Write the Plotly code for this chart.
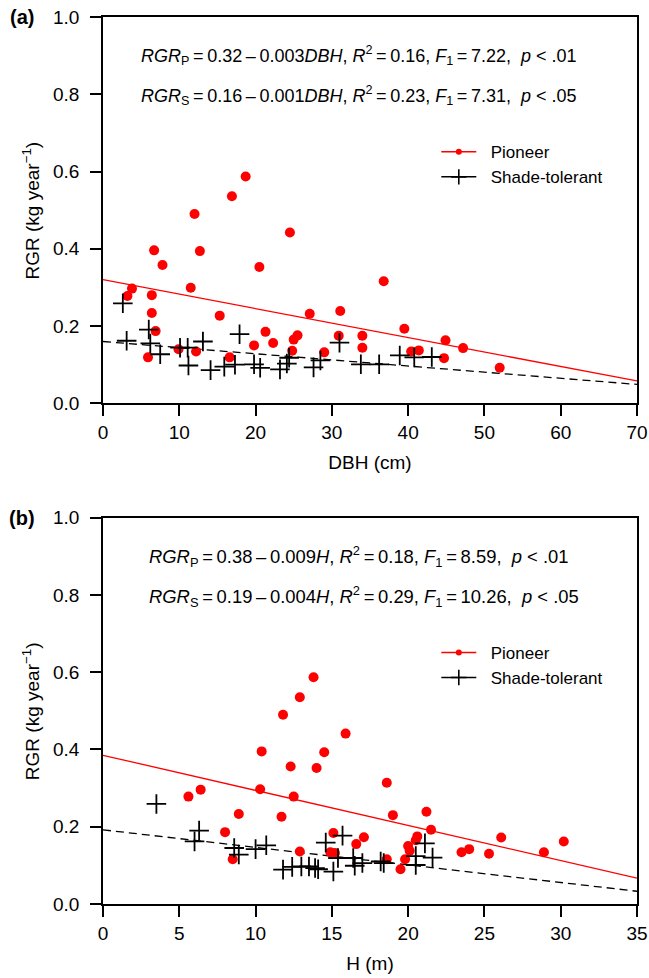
import plotly.graph_objects as go

# ---------------- data ----------------
# Panel (a): RGR vs DBH
pio_dbh = [3.2, 3.8, 6.4, 6.7, 7.8, 6.4, 6.9, 5.9, 11.5, 12.0, 12.7, 12.2, 9.9, 15.3, 16.9, 18.7,
           16.6, 19.8, 20.5, 21.3, 22.3, 24.5, 24.8, 25.0, 25.5, 27.1, 29.0, 31.1, 30.9, 34.0,
           34.0, 36.8, 39.5, 40.4, 41.4, 44.9, 44.7, 47.2, 52.0]
pio_rgr_a = [0.278, 0.297, 0.280, 0.396, 0.358, 0.234, 0.187, 0.119, 0.299, 0.490, 0.394, 0.134,
             0.140, 0.227, 0.536, 0.587, 0.119, 0.150, 0.353, 0.185, 0.156, 0.442, 0.136, 0.165,
             0.176, 0.232, 0.132, 0.239, 0.175, 0.175, 0.144, 0.316, 0.193, 0.134, 0.137, 0.163,
             0.117, 0.143, 0.092]
sha_dbh = [2.6, 3.1, 6.0, 6.2, 7.5, 10.1, 11.1, 11.2, 13.1, 14.1, 15.9, 17.3, 17.9, 19.8, 20.6,
           23.2, 24.1, 24.4, 27.6, 28.5, 31.0, 33.8, 36.2, 38.9, 40.8, 43.1]
sha_rgr_a = [0.259, 0.162, 0.191, 0.155, 0.127, 0.144, 0.144, 0.098, 0.160, 0.086, 0.095, 0.100,
             0.179, 0.101, 0.092, 0.088, 0.103, 0.118, 0.093, 0.111, 0.157, 0.101, 0.101, 0.124,
             0.119, 0.120]

# Panel (b): RGR vs H
pio_h = [5.6, 6.4, 8.0, 8.9, 8.5, 10.4, 10.3, 11.7, 11.8, 12.3, 12.5, 12.9, 12.9, 14.0, 14.5,
         13.8, 15.9, 15.1, 14.9, 15.2, 16.6, 17.1, 18.6, 19.0, 18.6, 19.5, 19.8, 20.0, 20.1,
         20.5, 20.6, 21.2, 21.5, 23.5, 24.0, 25.3, 26.1, 28.9, 30.2]
pio_rgr_b = [0.278, 0.296, 0.186, 0.233, 0.116, 0.395, 0.297, 0.226, 0.490, 0.356, 0.278, 0.535,
             0.136, 0.352, 0.393, 0.587, 0.441, 0.184, 0.134, 0.132, 0.155, 0.173, 0.314, 0.230,
             0.116, 0.090, 0.116, 0.150, 0.138, 0.165, 0.175, 0.239, 0.192, 0.134, 0.142, 0.130,
             0.172, 0.134, 0.162]
sha_h = [3.5, 6.3, 6.0, 8.6, 8.9, 10.0, 10.7, 11.8, 12.4, 13.0, 13.5, 13.9, 14.1, 14.6, 15.1,
         15.7, 15.4, 16.4, 16.5, 17.0, 18.2, 18.4, 20.5, 20.5, 21.1, 21.6]
sha_rgr_b = [0.259, 0.190, 0.162, 0.145, 0.128, 0.142, 0.152, 0.089, 0.096, 0.097, 0.097, 0.093,
             0.090, 0.159, 0.084, 0.177, 0.119, 0.119, 0.099, 0.106, 0.110, 0.106, 0.124, 0.101,
             0.157, 0.120]

# Regression lines (end points)
fit_a_x = [0, 70]
fit_a_pio = [0.320, 0.058]
fit_a_sha = [0.160, 0.049]
fit_b_x = [0, 35]
fit_b_pio = [0.385, 0.067]
fit_b_sha = [0.192, 0.033]

y_ticks = [0.0, 0.2, 0.4, 0.6, 0.8, 1.0]
x_ticks_a = [0, 10, 20, 30, 40, 50, 60, 70]
x_ticks_b = [0, 5, 10, 15, 20, 25, 30, 35]

T = "\u2009"
eq_a = [f"<i>RGR</i><sub>P</sub>{T}={T}0.32{T}\u2013{T}0.003<i>DBH</i>, <i>R</i><sup>2</sup>{T}={T}0.16, <i>F</i><sub>1</sub>{T}={T}7.22,  <i>p</i> < .01",
        f"<i>RGR</i><sub>S</sub>{T}={T}0.16{T}\u2013{T}0.001<i>DBH</i>, <i>R</i><sup>2</sup>{T}={T}0.23, <i>F</i><sub>1</sub>{T}={T}7.31,  <i>p</i> < .05"]
eq_b = [f"<i>RGR</i><sub>P</sub>{T}={T}0.38{T}\u2013{T}0.009<i>H</i>, <i>R</i><sup>2</sup>{T}={T}0.18, <i>F</i><sub>1</sub>{T}={T}8.59,  <i>p</i> < .01",
        f"<i>RGR</i><sub>S</sub>{T}={T}0.19{T}\u2013{T}0.004<i>H</i>, <i>R</i><sup>2</sup>{T}={T}0.29, <i>F</i><sub>1</sub>{T}={T}10.26,  <i>p</i> < .05"]
y_title = "RGR (kg year<sup>\u22121</sup>)"

FONT = "Liberation Sans, Arial, sans-serif"
RED = "#FF0000"
NB = "\u00a0\u00a0"

fig = go.Figure()

def add_panel(xa, ya, px, py, sx, sy, fx, fp, fs, legend):
    fig.add_trace(go.Scatter(x=fx, y=fp, mode="lines", line=dict(color=RED, width=1.3),
                             xaxis=xa, yaxis=ya, showlegend=False, hoverinfo="skip"))
    fig.add_trace(go.Scatter(x=fx, y=fs, mode="lines", line=dict(color="black", width=1.3, dash="8px,5px"),
                             xaxis=xa, yaxis=ya, showlegend=False, hoverinfo="skip"))
    fig.add_trace(go.Scatter(x=px, y=py, mode="markers", name="Pioneer",
                             marker=dict(color=RED, size=10, line=dict(width=0)),
                             xaxis=xa, yaxis=ya, showlegend=False))
    fig.add_trace(go.Scatter(x=sx, y=sy, mode="markers", name="Shade-tolerant",
                             marker=dict(symbol="cross-thin", size=14, color="black",
                                         line=dict(color="black", width=1.8)),
                             xaxis=xa, yaxis=ya, showlegend=False))
    # legend-only entries (line + symbol, like the reference key)
    fig.add_trace(go.Scatter(x=[None], y=[None], mode="lines+markers", name=NB + "Pioneer",
                             line=dict(color=RED, width=1.5),
                             marker=dict(color=RED, size=6, line=dict(width=0)),
                             xaxis=xa, yaxis=ya, legend=legend, hoverinfo="skip"))
    fig.add_trace(go.Scatter(x=[None], y=[None], mode="lines+markers", name=NB + "Shade-tolerant",
                             line=dict(color="black", width=1.5),
                             marker=dict(symbol="cross-thin", size=11, color="black",
                                         line=dict(color="black", width=1.6)),
                             xaxis=xa, yaxis=ya, legend=legend, hoverinfo="skip"))

add_panel("x", "y", pio_dbh, pio_rgr_a, sha_dbh, sha_rgr_a, fit_a_x, fit_a_pio, fit_a_sha, "legend")
add_panel("x2", "y2", pio_h, pio_rgr_b, sha_h, sha_rgr_b, fit_b_x, fit_b_pio, fit_b_sha, "legend2")

W, H = 649, 978
ML, MR, MT, MB = 102.7, 12.3, 16.7, 73.7
ph = H - MT - MB
pw = W - ML - MR
panel_h = 386.6
dom_b = [0, panel_h / ph]
dom_a = [1 - panel_h / ph, 1]

axis_common = dict(showline=True, linecolor="black", linewidth=1.8, mirror=True,
                   ticks="outside", ticklen=11, tickwidth=1.6, tickcolor="black",
                   showgrid=False, zeroline=False, automargin=False,
                   tickfont=dict(family=FONT, size=19, color="black"))
title_font = dict(family=FONT, size=19, color="black")
leg_font = dict(family=FONT, size=17, color="black")

fig.update_layout(
    template="none",
    width=W, height=H,
    margin=dict(l=ML, r=MR, t=MT, b=MB, pad=0, autoexpand=False),
    paper_bgcolor="white", plot_bgcolor="white",
    font=dict(family=FONT, color="black"),
    xaxis=dict(domain=[0, 1], anchor="y", range=[0, 70], tickvals=x_ticks_a,
               title=dict(text="DBH (cm)", font=title_font, standoff=14), **axis_common),
    yaxis=dict(domain=dom_a, anchor="x", range=[0, 1], tickvals=y_ticks, tickformat=".1f",
               ticklabelstandoff=7, **axis_common),
    xaxis2=dict(domain=[0, 1], anchor="y2", range=[0, 35], tickvals=x_ticks_b,
                title=dict(text="H (m)", font=title_font, standoff=14), **axis_common),
    yaxis2=dict(domain=dom_b, anchor="x2", range=[0, 1], tickvals=y_ticks, tickformat=".1f",
                ticklabelstandoff=7, **axis_common),
    legend=dict(x=(436 - ML) / pw, xanchor="left", y=(904.3 - 164.5) / ph, yanchor="middle",
                font=leg_font, bgcolor="rgba(0,0,0,0)", borderwidth=0,
                tracegroupgap=0, itemwidth=35),
    legend2=dict(x=(436 - ML) / pw, xanchor="left", y=(904.3 - 665.5) / ph, yanchor="middle",
                 font=leg_font, bgcolor="rgba(0,0,0,0)", borderwidth=0,
                 tracegroupgap=0, itemwidth=35),
)

annots = []
for t, yv in zip(eq_a, [0.900, 0.797]):
    annots.append(dict(text=t, x=4.76, y=yv, xref="x", yref="y", xanchor="left", yanchor="middle",
                       showarrow=False, font=dict(family=FONT, size=18, color="black")))
for t, yv in zip(eq_b, [0.900, 0.797]):
    annots.append(dict(text=t, x=2.9, y=yv, xref="x2", yref="y2", xanchor="left", yanchor="middle",
                       showarrow=False, font=dict(family=FONT, size=18.4, color="black")))
# y-axis titles
for dom in (dom_a, dom_b):
    annots.append(dict(text=y_title, x=(31 - ML) / pw, y=(dom[0] + dom[1]) / 2,
                       xref="paper", yref="paper", textangle=-90,
                       xanchor="center", yanchor="middle", showarrow=False, font=title_font))
annots.append(dict(text="<b>(a)</b>", x=(22 - ML) / pw, y=dom_a[1], xref="paper", yref="paper",
                   xanchor="center", yanchor="middle", showarrow=False,
                   font=dict(family=FONT, size=20, color="black")))
annots.append(dict(text="<b>(b)</b>", x=(22 - ML) / pw, y=dom_b[1], xref="paper", yref="paper",
                   xanchor="center", yanchor="middle", showarrow=False,
                   font=dict(family=FONT, size=20, color="black")))
fig.update_layout(annotations=annots)

fig.write_html("out.html", config={"displayModeBar": False},
               post_script="document.body.style.margin='0';document.body.style.overflow='hidden';")
